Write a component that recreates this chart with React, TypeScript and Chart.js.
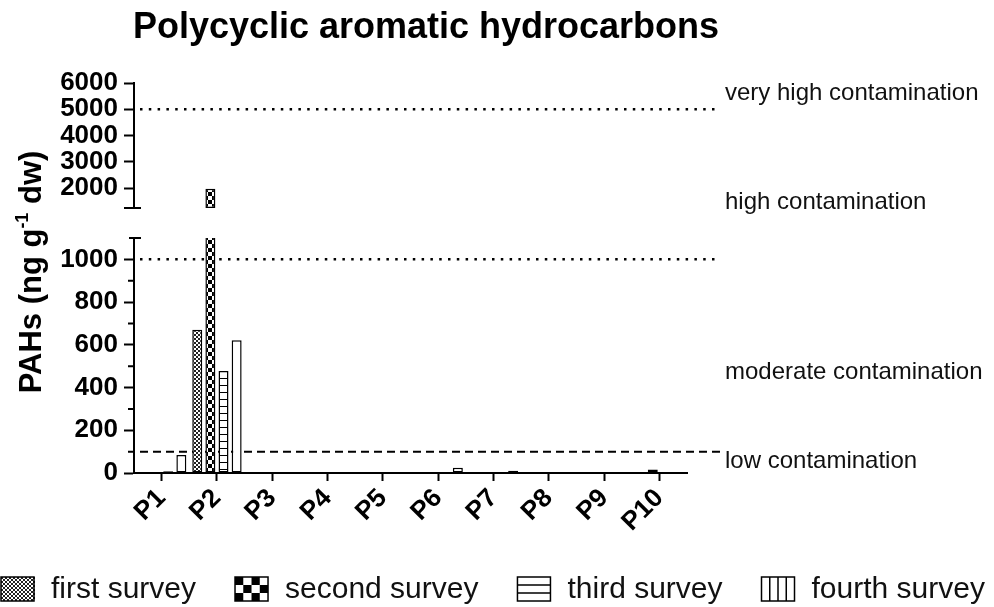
import React, { useEffect, useRef } from 'react';
import { Chart, registerables } from 'chart.js';

Chart.register(...registerables);

// ---------- data ----------
const categories = ['P1', 'P2', 'P3', 'P4', 'P5', 'P6', 'P7', 'P8', 'P9', 'P10'];
const surveyNames = ['first survey', 'second survey', 'third survey', 'fourth survey'];
const firstSurvey = [1, 670, 3, 0, 0, 0, 2, 0, 0, 0];
const secondSurvey = [0, 1980, 0, 0, 0, 0, 0, 0, 0, 16];
const thirdSurvey = [8, 478, 0, 0, 0, 0, 0, 0, 0, 0];
const fourthSurvey = [84, 621, 0, 0, 0, 25, 10, 0, 0, 2];

const lowerMax = 1100;
const lowerTicks = [0, 200, 400, 600, 800, 1000];
const lowerMinorTicks = [100, 300, 500, 700, 900];
const upperMin = 1250;
const upperMax = 6000;
const upperTicks = [2000, 3000, 4000, 5000, 6000];

const veryHighLimit = 5000;
const highLimit = 1000;
const lowLimit = 100;
const levelLabels = ['very high contamination', 'high contamination', 'moderate contamination', 'low contamination'];

const chartTitle = 'Polycyclic aromatic hydrocarbons';

const FONT = '"Liberation Sans", Arial, Helvetica, sans-serif';

function makePattern(kind: string): CanvasPattern | string {
  const c = document.createElement('canvas');
  const g = c.getContext('2d')!;
  if (kind === 'fine') {
    c.width = 4; c.height = 4;
    g.fillStyle = '#fff'; g.fillRect(0, 0, 4, 4);
    g.fillStyle = '#222';
    g.fillRect(0, 0, 2, 2); g.fillRect(2, 2, 2, 2);
  } else if (kind === 'checker') {
    c.width = 8; c.height = 8;
    g.fillStyle = '#fff'; g.fillRect(0, 0, 8, 8);
    g.fillStyle = '#000';
    g.fillRect(0, 0, 4, 4); g.fillRect(4, 4, 4, 4);
  } else if (kind === 'hlines') {
    c.width = 4; c.height = 7;
    g.fillStyle = '#fff'; g.fillRect(0, 0, 4, 7);
    g.fillStyle = '#000'; g.fillRect(0, 0, 4, 1);
  } else {
    return '#ffffff';
  }
  return g.createPattern(c, 'repeat')!;
}

const fixedWidth = (s: any) => { s.width = 134; };
const setTicks = (vals: number[]) => (s: any) => { s.ticks = vals.map(v => ({ value: v })); };

const decorPlugin = {
  id: 'decor',
  beforeDatasetsDraw(chart: any) {
    const ctx = chart.ctx as CanvasRenderingContext2D;
    const { left } = chart.chartArea;
    const y = chart.scales.y;
    const yTop = chart.scales.yTop;
    const lineRight = 720;
    ctx.save();
    ctx.strokeStyle = '#000';
    const ref = (py: number, dash: number[], w: number) => {
      ctx.beginPath();
      ctx.lineWidth = w;
      ctx.setLineDash(dash);
      ctx.moveTo(left + 6, py);
      ctx.lineTo(lineRight, py);
      ctx.stroke();
    };
    ref(yTop.getPixelForValue(veryHighLimit), [2.5, 6.3], 2.5);
    ref(y.getPixelForValue(highLimit), [2.5, 6.3], 2.5);
    ref(y.getPixelForValue(lowLimit), [8, 5], 2);
    ctx.restore();
  },
  afterDraw(chart: any) {
    const ctx = chart.ctx as CanvasRenderingContext2D;
    const { left } = chart.chartArea;
    const y = chart.scales.y;
    const yTop = chart.scales.yTop;
    ctx.save();
    ctx.setLineDash([]);
    ctx.strokeStyle = '#000';
    ctx.lineWidth = 2;
    // axis break caps
    ctx.beginPath();
    ctx.moveTo(left - 10, yTop.bottom);
    ctx.lineTo(left + 7, yTop.bottom);
    ctx.moveTo(left - 5, y.top);
    ctx.lineTo(left + 7, y.top);
    ctx.stroke();
    // minor ticks on lower axis
    ctx.beginPath();
    lowerMinorTicks.forEach(v => {
      const py = y.getPixelForValue(v);
      ctx.moveTo(left - 6, py);
      ctx.lineTo(left, py);
    });
    ctx.stroke();

    // title
    ctx.fillStyle = '#000';
    ctx.font = `bold 36px ${FONT}`;
    ctx.textAlign = 'center';
    ctx.textBaseline = 'alphabetic';
    ctx.fillText(chartTitle, 426, 38);

    // y axis title
    ctx.save();
    ctx.translate(41, 272);
    ctx.rotate(-Math.PI / 2);
    const big = `bold 31px ${FONT}`;
    const small = `bold 18px ${FONT}`;
    const parts = [
      { t: 'PAHs (ng g', f: big, dy: 0 },
      { t: '-1', f: small, dy: -13 },
      { t: ' dw)', f: big, dy: 0 },
    ];
    let total = 0;
    parts.forEach(p => { ctx.font = p.f; total += ctx.measureText(p.t).width; });
    let x = -total / 2;
    ctx.textAlign = 'left';
    parts.forEach(p => {
      ctx.font = p.f;
      ctx.fillText(p.t, x, p.dy);
      x += ctx.measureText(p.t).width;
    });
    ctx.restore();

    // contamination level labels
    ctx.font = `24px ${FONT}`;
    ctx.textAlign = 'left';
    ctx.textBaseline = 'middle';
    ctx.fillStyle = '#111';
    const lx = 725;
    ctx.fillText(levelLabels[0], lx, yTop.getPixelForValue(5600));
    ctx.fillText(levelLabels[1], lx, yTop.getPixelForValue(1450));
    ctx.fillText(levelLabels[2], lx, y.getPixelForValue(470));
    ctx.fillText(levelLabels[3], lx, y.getPixelForValue(55));

    // legend
    ctx.font = `30px ${FONT}`;
    ctx.textBaseline = 'alphabetic';
    const iconW = 33, iconH = 24, iconGap = 17, itemGap = 39;
    const iy = 577;
    let cx = 1;
    surveyNames.forEach((name, i) => {
      ctx.save();
      ctx.fillStyle = '#fff';
      ctx.fillRect(cx, iy, iconW, iconH);
      ctx.fillStyle = '#000';
      if (i === 0) {
        ctx.fillStyle = '#222';
        for (let yy = 0; yy < iconH; yy += 2) {
          for (let xx = ((yy / 2) % 2) * 2; xx < iconW; xx += 4) {
            ctx.fillRect(cx + xx, iy + yy, 2, 2);
          }
        }
      } else if (i === 1) {
        const cw = iconW / 4, ch = iconH / 3;
        for (let r = 0; r < 3; r++) for (let c = 0; c < 4; c++) {
          if ((r + c) % 2 === 0) ctx.fillRect(cx + c * cw, iy + r * ch, cw, ch);
        }
      } else if (i === 2) {
        ctx.lineWidth = 1.5;
        ctx.beginPath();
        for (let k = 1; k < 3; k++) {
          ctx.moveTo(cx, iy + (iconH * k) / 3);
          ctx.lineTo(cx + iconW, iy + (iconH * k) / 3);
        }
        ctx.stroke();
      } else {
        ctx.lineWidth = 1.5;
        ctx.beginPath();
        for (let k = 1; k < 4; k++) {
          ctx.moveTo(cx + (iconW * k) / 4, iy);
          ctx.lineTo(cx + (iconW * k) / 4, iy + iconH);
        }
        ctx.stroke();
      }
      ctx.lineWidth = 1.5;
      ctx.strokeStyle = '#000';
      ctx.strokeRect(cx, iy, iconW, iconH);
      ctx.restore();
      const tx = cx + iconW + iconGap;
      ctx.fillStyle = '#111';
      ctx.fillText(name, tx, 598);
      cx = tx + ctx.measureText(name).width + itemGap;
    });
    ctx.restore();
  },
};

export default function App() {
  const ref = useRef<HTMLCanvasElement>(null);

  useEffect(() => {
    document.body.style.margin = '0';
    const canvas = ref.current!;
    const fills = [makePattern('fine'), makePattern('checker'), makePattern('hlines'), makePattern('plain')];
    const values = [firstSurvey, secondSurvey, thirdSurvey, fourthSurvey];
    const datasets: any[] = [];
    values.forEach((vals, i) => {
      datasets.push({
        label: surveyNames[i],
        data: vals.map(v => Math.min(v, lowerMax)),
        yAxisID: 'y',
        stack: 's' + i,
        backgroundColor: fills[i],
        borderColor: '#000',
        borderWidth: 1.5,
        borderSkipped: (c: any) => (c.raw >= lowerMax ? 'end' : false),
      });
      datasets.push({
        label: surveyNames[i] + ' ',
        data: vals.map(v => (v > upperMin ? [upperMin, v] : null)),
        yAxisID: 'yTop',
        stack: 's' + i,
        backgroundColor: fills[i],
        borderColor: '#000',
        borderWidth: 1.5,
        borderSkipped: false,
      });
    });

    const tickFont = { family: FONT, size: 26, weight: 'bold' as const };

    const chart = new Chart(canvas, {
      type: 'bar',
      data: { labels: categories, datasets },
      plugins: [decorPlugin],
      options: {
        animation: false,
        responsive: false,
        devicePixelRatio: 1,
        categoryPercentage: 0.95,
        barPercentage: 0.76,
        layout: { padding: { left: 0, top: 83, right: 307, bottom: 74 } },
        plugins: {
          legend: { display: false },
          title: { display: false },
          tooltip: { enabled: false },
        },
        scales: {
          x: {
            type: 'category',
            offset: true,
            grid: { display: true, drawOnChartArea: false, offset: false, tickLength: 8, tickWidth: 2, tickColor: '#000' },
            border: { display: true, color: '#000', width: 2 },
            ticks: { color: '#000', font: { family: FONT, size: 26, weight: 'bold' }, minRotation: 45, maxRotation: 45, padding: 2, autoSkip: false },
            afterFit: (s: any) => { s.height = 60; },
          },
          yTop: {
            type: 'linear',
            position: 'left',
            stack: 'ax',
            stackWeight: 125,
            weight: 3,
            stacked: false,
            min: upperMin,
            max: upperMax,
            afterBuildTicks: setTicks(upperTicks),
            grid: { display: true, drawOnChartArea: false, tickLength: 10, tickWidth: 2, tickColor: '#000' },
            border: { display: true, color: '#000', width: 2 },
            ticks: { autoSkip: false, color: '#000', font: tickFont, padding: 6, callback: (v: any) => String(v) },
            afterFit: fixedWidth,
          },
          gap: {
            type: 'linear',
            position: 'left',
            stack: 'ax',
            stackWeight: 30,
            weight: 2,
            grid: { display: false },
            border: { display: false },
            ticks: { display: false },
            afterFit: fixedWidth,
          },
          y: {
            type: 'linear',
            position: 'left',
            stack: 'ax',
            stackWeight: 235,
            weight: 1,
            stacked: false,
            min: 0,
            max: lowerMax,
            afterBuildTicks: setTicks(lowerTicks),
            grid: { display: true, drawOnChartArea: false, tickLength: 10, tickWidth: 2, tickColor: '#000' },
            border: { display: true, color: '#000', width: 2 },
            ticks: { autoSkip: false, color: '#000', font: tickFont, padding: 6, callback: (v: any) => String(v) },
            afterFit: fixedWidth,
          },
        },
      } as any,
    });
    return () => chart.destroy();
  }, []);

  return (
    <div style={{ position: 'absolute', left: 0, top: 0, width: 994, height: 607, background: '#fff' }}>
      <canvas ref={ref} width={994} height={607} />
    </div>
  );
}
